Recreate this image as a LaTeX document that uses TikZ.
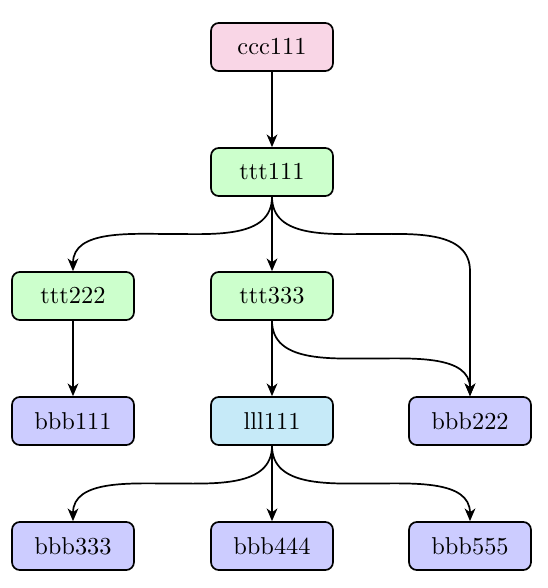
\documentclass[tikz,border=0pt]{standalone}
\usetikzlibrary{arrows.meta,calc}
\definecolor{cpink}{RGB}{249,214,230}
\definecolor{cgreen}{RGB}{204,255,204}
\definecolor{cpurp}{RGB}{204,204,255}
\definecolor{cblue}{RGB}{198,234,248}
\tikzset{
  box/.style={draw=black, line width=0.7pt, rounded corners=3.2pt, minimum width=50pt, minimum height=19.7pt, inner sep=0pt},
  edge/.style={line width=0.7pt, -{Stealth[length=5.2pt,width=4.4pt,inset=1.6pt]}}
}
\begin{document}
\begin{tikzpicture}[x=0.41pt,y=-0.41pt]
\useasboundingbox (0,0) rectangle (548,588);
\node[box,fill=cpink] (c1) at (272,47) {ccc111};
\node[box,fill=cgreen] (t1) at (272,172) {ttt111};
\node[box,fill=cgreen] (t2) at (73,296) {ttt222};
\node[box,fill=cgreen] (t3) at (272,296) {ttt333};
\node[box,fill=cpurp] (b1) at (73,421) {bbb111};
\node[box,fill=cblue] (l1) at (272,421) {lll111};
\node[box,fill=cpurp] (b2) at (470,421) {bbb222};
\node[box,fill=cpurp] (b3) at (73,546) {bbb333};
\node[box,fill=cpurp] (b4) at (272,546) {bbb444};
\node[box,fill=cpurp] (b5) at (470,546) {bbb555};
\coordinate (m12) at ($(t1.south)!0.5!(t2.north)$);
\coordinate (m1b2) at ($(m12)+(199,0)$);
\coordinate (k1b2) at (b2.north |- t3.north);
\coordinate (m3b2) at ($(t3.south)!0.5!(b2.north)$);
\coordinate (ml3) at ($(l1.south)!0.5!(b3.north)$);
\coordinate (ml5) at ($(l1.south)!0.5!(b5.north)$);
\draw[edge] (c1) -- (t1);
\draw[edge] (t1) -- (t3);
\draw[edge] (t2) -- (b1);
\draw[edge] (t3) -- (l1);
\draw[edge] (l1) -- (b4);
\draw[edge] (t1.south) to[out=-90,in=0] (m12) to[out=180,in=90] (t2.north);
\draw[edge] (t1.south) to[out=-90,in=180] (m1b2) to[out=0,in=90] (k1b2) -- (b2.north);
\draw[edge] (t3.south) to[out=-90,in=180] (m3b2) to[out=0,in=90] (b2.north);
\draw[edge] (l1.south) to[out=-90,in=0] (ml3) to[out=180,in=90] (b3.north);
\draw[edge] (l1.south) to[out=-90,in=180] (ml5) to[out=0,in=90] (b5.north);
\end{tikzpicture}
\end{document}
